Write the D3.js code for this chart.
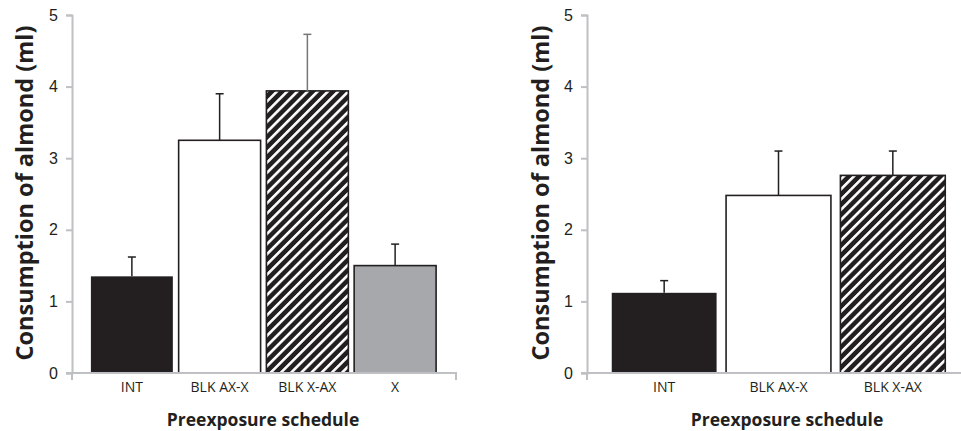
<!DOCTYPE html>
<html><head><meta charset="utf-8">
<script src="https://cdn.jsdelivr.net/npm/d3@7"></script>
<style>body{margin:0;background:#fff}svg{display:block}</style>
</head><body>
<svg id="c" width="961" height="431"></svg>
<script>
const categoriesA = ["INT", "BLK AX-X", "BLK X-AX", "X"];
const meansA = [1.35, 3.25, 3.94, 1.50];
const errorsA = [0.27, 0.65, 0.79, 0.30];
const categoriesB = ["INT", "BLK AX-X", "BLK X-AX"];
const meansB = [1.12, 2.48, 2.76];
const errorsB = [0.17, 0.62, 0.34];
const yTicks = [0, 1, 2, 3, 4, 5];
const yTitle = "Consumption of almond (ml)";
const xTitle = "Preexposure schedule";

const fills = {"INT": "#231f20", "BLK AX-X": "#ffffff", "BLK X-AX": "url(#hatch)", "X": "#a7a8ab"};

const svg = d3.select("#c");
const defs = svg.append("defs");
const pat = defs.append("pattern").attr("id", "hatch").attr("patternUnits", "userSpaceOnUse")
  .attr("width", 7.2).attr("height", 7.2).attr("patternTransform", "rotate(45)");
pat.append("rect").attr("width", 7.2).attr("height", 7.2).attr("fill", "#231f20");
pat.append("rect").attr("x", 0).attr("y", 0).attr("width", 2.6).attr("height", 7.2).attr("fill", "#ffffff");

const y = d3.scaleLinear().domain([0, 5]).range([373, 15]);

function panel(cfg) {
  const g = svg.append("g");
  const x = d3.scaleBand().domain(cfg.cats).range(cfg.barRange).paddingInner(cfg.pad).paddingOuter(cfg.pad / 2);
  const ya = g.append("g").attr("transform", `translate(${cfg.ax},0)`)
    .call(d3.axisLeft(y).tickValues(yTicks).tickSize(6).tickPadding(8).tickFormat(d3.format("d")));
  ya.select(".domain").attr("stroke", "#bfc0c4").attr("stroke-width", 2);
  ya.selectAll(".tick line").attr("stroke", "#bfc0c4").attr("stroke-width", 2);
  ya.selectAll(".tick text").attr("font-family", "Liberation Sans, Arial, sans-serif").attr("font-size", 16).attr("fill", "#231f20");
  const data = cfg.cats.map((c, i) => ({c, v: cfg.means[i], e: cfg.errs[i]}));
  g.selectAll(".bar").data(data).join("rect").attr("class", "bar")
    .attr("x", d => x(d.c)).attr("width", x.bandwidth())
    .attr("y", d => y(d.v)).attr("height", d => y(0) - y(d.v))
    .attr("fill", d => fills[d.c])
    .attr("stroke", "#231f20").attr("stroke-width", d => d.c === "INT" ? 0 : 1.6);
  const eb = g.selectAll(".err").data(data).join("g").attr("class", "err")
    .attr("stroke", (d, i) => cfg.errColors[i]).attr("stroke-width", 1.5);
  eb.append("line").attr("x1", d => x(d.c) + x.bandwidth() / 2).attr("x2", d => x(d.c) + x.bandwidth() / 2)
    .attr("y1", d => y(d.v)).attr("y2", d => y(d.v + d.e));
  eb.append("line").attr("x1", d => x(d.c) + x.bandwidth() / 2 - 4).attr("x2", d => x(d.c) + x.bandwidth() / 2 + 4)
    .attr("y1", d => y(d.v + d.e)).attr("y2", d => y(d.v + d.e));
  g.append("line").attr("x1", cfg.ax - 6).attr("x2", cfg.axEnd).attr("y1", y(0)).attr("y2", y(0))
    .attr("stroke", "#bfc0c4").attr("stroke-width", 2);
  cfg.xTickMarks.forEach(t => g.append("line").attr("x1", t).attr("x2", t).attr("y1", y(0)).attr("y2", y(0) + 7)
    .attr("stroke", "#bfc0c4").attr("stroke-width", 2));
  g.selectAll(".xl").data(data).join("text").attr("class", "xl")
    .attr("x", d => x(d.c) + x.bandwidth() / 2).attr("y", 392)
    .attr("text-anchor", "middle").attr("font-family", "Open Sans, sans-serif").attr("font-size", 14)
    .attr("fill", "#231f20").text(d => d.c);
  g.append("text").attr("transform", `translate(${cfg.ytx},193) rotate(-90)`).attr("text-anchor", "middle")
    .attr("dominant-baseline", "central")
    .attr("font-family", "Open Sans, sans-serif").attr("font-weight", "bold").attr("font-size", 23.5)
    .attr("fill", "#231f20").text(yTitle);
  g.append("text").attr("x", cfg.xtx).attr("y", 426).attr("text-anchor", "middle")
    .attr("font-family", "Open Sans, sans-serif").attr("font-weight", "bold").attr("font-size", 17.5)
    .attr("fill", "#231f20").text(xTitle);
}

panel({cats: categoriesA, means: meansA, errs: errorsA, ax: 72, axEnd: 457, xTickMarks: [72, 456],
  barRange: [88, 439], pad: 0.066, errColors: ["#231f20", "#231f20", "#77777a", "#231f20"], ytx: 24, xtx: 263});
panel({cats: categoriesB, means: meansB, errs: errorsB, ax: 587, axEnd: 961, xTickMarks: [587],
  barRange: [607, 950], pad: 0.083, errColors: ["#231f20", "#231f20", "#231f20"], ytx: 540, xtx: 787});
</script>
</body></html>
